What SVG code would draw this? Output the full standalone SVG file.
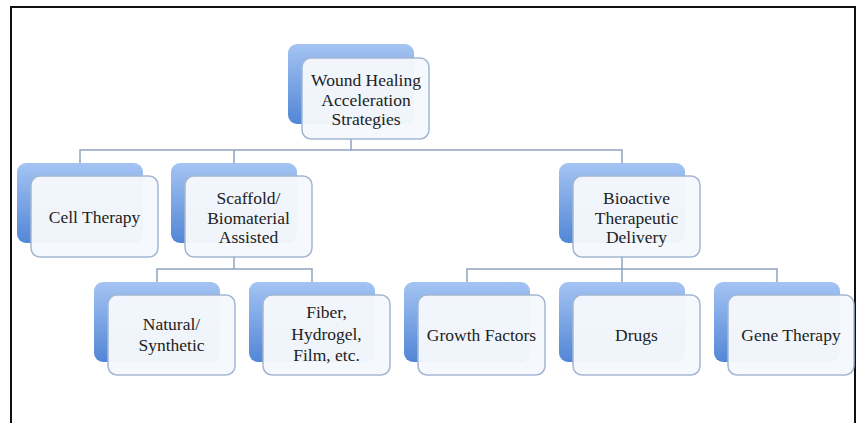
<svg xmlns="http://www.w3.org/2000/svg" width="857" height="423" viewBox="0 0 857 423">
  <defs>
    <linearGradient id="blueGrad" x1="0" y1="0" x2="0" y2="1">
      <stop offset="0" stop-color="#a4c4f3"/>
      <stop offset="1" stop-color="#5286d6"/>
    </linearGradient>
  </defs>
  <style>
    .back { fill: url(#blueGrad); }
    .front { fill: #f5f8fc; fill-opacity: 0.97; stroke: #a3b6d2; stroke-width: 1.5; }
    .lbl { font-family: "Liberation Serif", "DejaVu Serif", serif; font-size: 17.5px; fill: #222222; text-anchor: middle; }
    .conn { fill: none; stroke: #8fa2bd; stroke-width: 1.5; }
    .frame { fill: none; stroke: #111111; stroke-width: 2; }
  </style>
  <rect x="0" y="0" width="857" height="423" fill="#ffffff"/>
  <path class="frame" d="M11,423 V7 H855 V423"/>

  <g id="connectors">
    <path class="conn" d="M351,139 V150 M80,163 V150 H622 V163 M234,150 V163"/>
    <path class="conn" d="M234,257 V269 M157,282 V269 H312 V282"/>
    <path class="conn" d="M622,257 V269 M467,282 V269 H777 V282 M622,269 V282"/>
  </g>

  <g id="root">
    <rect class="back" x="288" y="44" width="126" height="80" rx="9"/>
    <rect class="front" x="302" y="58" width="127" height="81" rx="9"/>
    <text class="lbl" x="366" y="86">Wound Healing</text>
    <text class="lbl" x="366" y="105.5">Acceleration</text>
    <text class="lbl" x="366" y="125">Strategies</text>
  </g>

  <g id="cell-therapy">
    <rect class="back" x="17" y="163" width="126" height="80" rx="9"/>
    <rect class="front" x="31" y="176" width="127" height="81" rx="9"/>
    <text class="lbl" x="94.5" y="223">Cell Therapy</text>
  </g>

  <g id="scaffold">
    <rect class="back" x="171" y="163" width="126" height="80" rx="9"/>
    <rect class="front" x="185" y="176" width="127" height="81" rx="9"/>
    <text class="lbl" x="248.5" y="204">Scaffold/</text>
    <text class="lbl" x="248.5" y="223.5">Biomaterial</text>
    <text class="lbl" x="248.5" y="243">Assisted</text>
  </g>

  <g id="bioactive">
    <rect class="back" x="559" y="163" width="126" height="80" rx="9"/>
    <rect class="front" x="573" y="176" width="127" height="81" rx="9"/>
    <text class="lbl" x="636.5" y="204">Bioactive</text>
    <text class="lbl" x="636.5" y="223.5">Therapeutic</text>
    <text class="lbl" x="636.5" y="243">Delivery</text>
  </g>

  <g id="natural-synthetic">
    <rect class="back" x="94" y="282" width="126" height="80" rx="9"/>
    <rect class="front" x="108" y="295" width="127" height="80" rx="9"/>
    <text class="lbl" x="171.5" y="330">Natural/</text>
    <text class="lbl" x="171.5" y="351">Synthetic</text>
  </g>

  <g id="fiber">
    <rect class="back" x="249" y="282" width="126" height="80" rx="9"/>
    <rect class="front" x="263" y="295" width="127" height="80" rx="9"/>
    <text class="lbl" x="326.5" y="318">Fiber,</text>
    <text class="lbl" x="326.5" y="339.5">Hydrogel,</text>
    <text class="lbl" x="326.5" y="361">Film, etc.</text>
  </g>

  <g id="growth-factors">
    <rect class="back" x="404" y="282" width="126" height="80" rx="9"/>
    <rect class="front" x="418" y="295" width="127" height="80" rx="9"/>
    <text class="lbl" x="481.5" y="341">Growth Factors</text>
  </g>

  <g id="drugs">
    <rect class="back" x="559" y="282" width="126" height="80" rx="9"/>
    <rect class="front" x="573" y="295" width="127" height="80" rx="9"/>
    <text class="lbl" x="636.5" y="341">Drugs</text>
  </g>

  <g id="gene-therapy">
    <rect class="back" x="714" y="282" width="126" height="80" rx="9"/>
    <rect class="front" x="728" y="295" width="126" height="80" rx="9"/>
    <text class="lbl" x="791" y="341">Gene Therapy</text>
  </g>
</svg>
